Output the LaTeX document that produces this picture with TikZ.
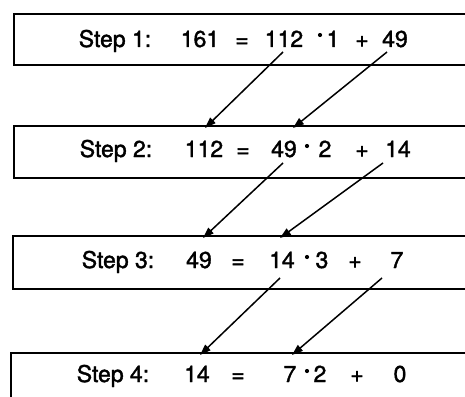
\documentclass[tikz,border=0pt]{standalone}
\usepackage{fontspec}
\setmainfont{TeX Gyre Heros}[FakeBold=1.6]
\newfontfamily\heavy{TeX Gyre Heros}[FakeBold=1.6]
\usetikzlibrary{arrows.meta}
\tikzset{
  boxst/.style={draw, line width=2pt, inner sep=0pt, minimum width=480pt, anchor=north west},
  tok/.style={anchor=base, inner sep=0pt, font=\heavy\fontsize{23}{26}\selectfont},
  mdot/.style={circle, fill, inner sep=0pt, minimum size=4.2pt},
  arr/.style={line width=1.5pt, -{Triangle[length=11pt,width=7.5pt]}}
}
\begin{document}
\begin{tikzpicture}[x=1pt,y=-1pt]
\useasboundingbox (0,0) rectangle (465,396);
\clip (0,0) rectangle (465,396);
\fill[white] (0,0) rectangle (465,396);
% boxes
\node[boxst, minimum height=51pt] (box1) at (13,13) {};
\node[boxst, minimum height=52pt] (box2) at (13,125) {};
\node[boxst, minimum height=53pt] (box3) at (12,235) {};
\node[boxst, minimum height=70pt] (box4) at (10,352) {};
% row 1
\node[tok] (s1) at (115,47) {Step 1:};
\node[tok] (r1a) at (200,47) {161};
\node[tok] (r1e) at (242,47) {=};
\node[tok] (r1b) at (284,47) {112};
\node[mdot] (r1m) at (320,35) {};
\node[tok] (r1c) at (333,47) {1};
\node[tok] (r1p) at (362,47) {+};
\node[tok] (r1d) at (395,47) {49};
% row 2
\node[tok] (s2) at (116,157) {Step 2:};
\node[tok] (r2a) at (204,157) {112};
\node[tok] (r2e) at (243,157) {=};
\node[tok] (r2b) at (284,157) {49};
\node[mdot] (r2m) at (307,146) {};
\node[tok] (r2c) at (325,157) {2};
\node[tok] (r2p) at (362,157) {+};
\node[tok] (r2d) at (398,157) {14};
% row 3
\node[tok] (s3) at (118,268) {Step 3:};
\node[tok] (r3a) at (199,268) {49};
\node[tok] (r3e) at (238,268) {=};
\node[tok] (r3b) at (282,268) {14};
\node[mdot] (r3m) at (307,257) {};
\node[tok] (r3c) at (322,268) {3};
\node[tok] (r3p) at (355,268) {+};
\node[tok] (r3d) at (397,268) {7};
% row 4
\node[tok] (s4) at (113,382) {Step 4:};
\node[tok] (r4a) at (197,382) {14};
\node[tok] (r4e) at (238,382) {=};
\node[tok] (r4b) at (290,382) {7};
\node[mdot] (r4m) at (307,371) {};
\node[tok] (r4c) at (320,382) {2};
\node[tok] (r4p) at (357,382) {+};
\node[tok] (r4d) at (400,382) {0};
% arrow end points
\coordinate (a1s) at (283,52);  \coordinate (a1e) at (205,128);
\coordinate (b1s) at (387,52);  \coordinate (b1e) at (293,128);
\coordinate (a2s) at (283,163); \coordinate (a2e) at (203,238);
\coordinate (b2s) at (383,163); \coordinate (b2e) at (280,238);
\coordinate (a3s) at (280,278); \coordinate (a3e) at (200,355);
\coordinate (b3s) at (382,278); \coordinate (b3e) at (292,355);
\draw[arr] (a1s) -- (a1e);
\draw[arr] (b1s) -- (b1e);
\draw[arr] (a2s) -- (a2e);
\draw[arr] (b2s) -- (b2e);
\draw[arr] (a3s) -- (a3e);
\draw[arr] (b3s) -- (b3e);
\end{tikzpicture}
\end{document}
